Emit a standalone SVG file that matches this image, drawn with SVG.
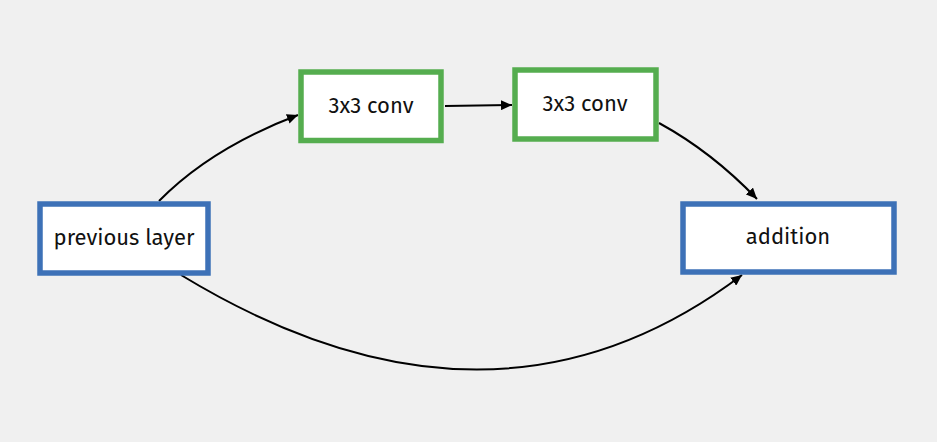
<svg xmlns="http://www.w3.org/2000/svg" width="937" height="442" viewBox="0 0 937 442">
<style>
.bg{fill:#f0f0f0}
.blue{fill:#ffffff;stroke:#3d71b7;stroke-width:5.5}
.green{fill:#ffffff;stroke:#55ad4f;stroke-width:5.5}
.lbl{font-family:"Fira Sans","Open Sans","Noto Sans",sans-serif;font-size:22px;fill:#111111;text-anchor:middle}
.edge{fill:none;stroke:#000000;stroke-width:2}
</style>
<defs>
<marker id="arr" markerUnits="userSpaceOnUse" markerWidth="12" markerHeight="10" refX="11" refY="5" orient="auto">
<path d="M0,0 L11,5 L0,10 Z" fill="#000000"/>
</marker>
</defs>
<rect class="bg" x="0" y="0" width="937" height="442"/>
<g id="connectors">
<path class="edge" d="M159,201 Q211,148 298,115" marker-end="url(#arr)"/>
<path class="edge" d="M445,106 L512,105" marker-end="url(#arr)"/>
<path class="edge" d="M659,123 Q712,152 757,199" marker-end="url(#arr)"/>
<path class="edge" d="M181,275 Q492,464 742,275" marker-end="url(#arr)"/>
</g>
<g id="previous-layer">
<rect class="blue" x="40" y="204" width="168" height="69"/>
<text class="lbl" x="124" y="245">previous layer</text>
</g>
<g id="conv1">
<rect class="green" x="301" y="72" width="140" height="68.5"/>
<text class="lbl" x="371" y="113">3x3 conv</text>
</g>
<g id="conv2">
<rect class="green" x="515" y="70" width="141" height="69"/>
<text class="lbl" x="585" y="111">3x3 conv</text>
</g>
<g id="addition">
<rect class="blue" x="683" y="204" width="211" height="68"/>
<text class="lbl" x="788" y="244">addition</text>
</g>
</svg>
